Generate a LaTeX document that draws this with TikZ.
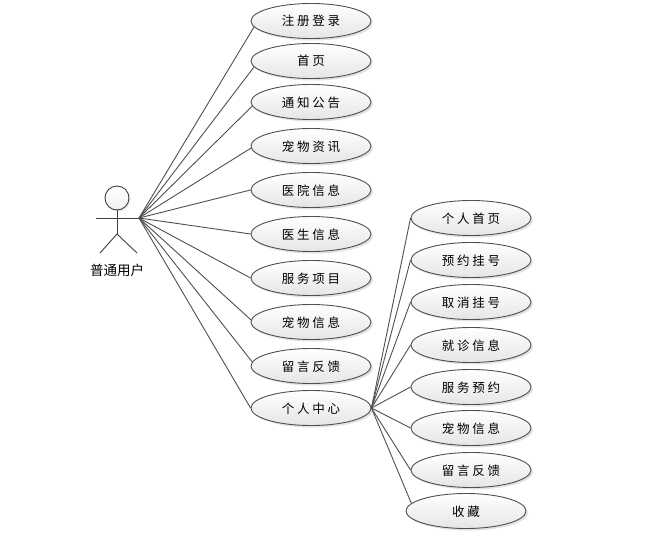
\documentclass[tikz,border=0pt]{standalone}
\usepackage{fontspec}
\usetikzlibrary{shapes.geometric,shadows}
\newfontfamily\cjk{Noto Sans CJK SC}
\definecolor{edge}{RGB}{80,80,80}
\tikzset{
  usecase/.style={ellipse,draw=edge,line width=0.9pt,minimum width=120pt,minimum height=35pt,inner sep=0pt,
    top color=white,bottom color=black!10,
    drop shadow={shadow xshift=2pt,shadow yshift=-2pt,fill=black!25,opacity=0.45},
    font=\cjk\fontsize{12.5pt}{14pt}\selectfont,text=black,text height=11pt,text depth=1pt},
  link/.style={draw=edge,line width=0.9pt},
  figure line/.style={draw=black!75,line width=0.9pt}
}
\begin{document}
\begin{tikzpicture}[x=1pt,y=-1pt]
\useasboundingbox (0,0) rectangle (662,535);
\fill[white] (0,0) rectangle (662,535);
% left use cases
\node[usecase] (a1) at (311,21) {注 册 登 录};
\node[usecase] (a2) at (311,61) {首 页};
\node[usecase] (a3) at (311,102) {通 知 公 告};
\node[usecase] (a4) at (311,146) {宠 物 资 讯};
\node[usecase] (a5) at (311,190) {医 院 信 息};
\node[usecase] (a6) at (311,234) {医 生 信 息};
\node[usecase] (a7) at (311,278) {服 务 项 目};
\node[usecase] (a8) at (311,322) {宠 物 信 息};
\node[usecase] (a9) at (311,366) {留 言 反 馈};
\node[usecase] (a10) at (311,408) {个 人 中 心};
% right use cases
\node[usecase] (b1) at (471,218) {个 人 首 页};
\node[usecase] (b2) at (471,260) {预 约 挂 号};
\node[usecase] (b3) at (471,302) {取 消 挂 号};
\node[usecase] (b4) at (471,345) {就 诊 信 息};
\node[usecase] (b5) at (471,387) {服 务 预 约};
\node[usecase] (b6) at (471,428) {宠 物 信 息};
\node[usecase] (b7) at (471,470) {留 言 反 馈};
\node[usecase] (b8) at (466,511) {收 藏};
% actor
\node[circle,draw=black!75,line width=0.9pt,minimum size=24pt,inner sep=0pt,top color=white,bottom color=black!6,
  drop shadow={shadow xshift=1.5pt,shadow yshift=-1.5pt,fill=black!20,opacity=0.4}] (head) at (117,198) {};
\coordinate (armL) at (96,218);
\coordinate (hand) at (139,218);
\coordinate (hip) at (117,234);
\coordinate (legL) at (100,253);
\coordinate (legR) at (137,253);
\draw[figure line] (armL) -- (hand);
\draw[figure line] (head.south) -- (hip);
\draw[figure line] (legL) -- (hip) -- (legR);
\node[font=\cjk\fontsize{13.5pt}{15pt}\selectfont,inner sep=0pt] (actorlabel) at (117,270) {普通用户};
% connectors
\foreach \n/\a in {a1/186,a2/186,a3/184,a4/182,a5/180,a6/180,a7/180,a8/178,a9/176,a10/180}{
  \draw[link] (hand) -- (\n.\a);
}
\foreach \n/\a in {b1/180,b2/180,b3/180,b4/180,b5/180,b6/180,b7/180,b8/172}{
  \draw[link] (a10.east) -- (\n.\a);
}
\end{tikzpicture}
\end{document}
